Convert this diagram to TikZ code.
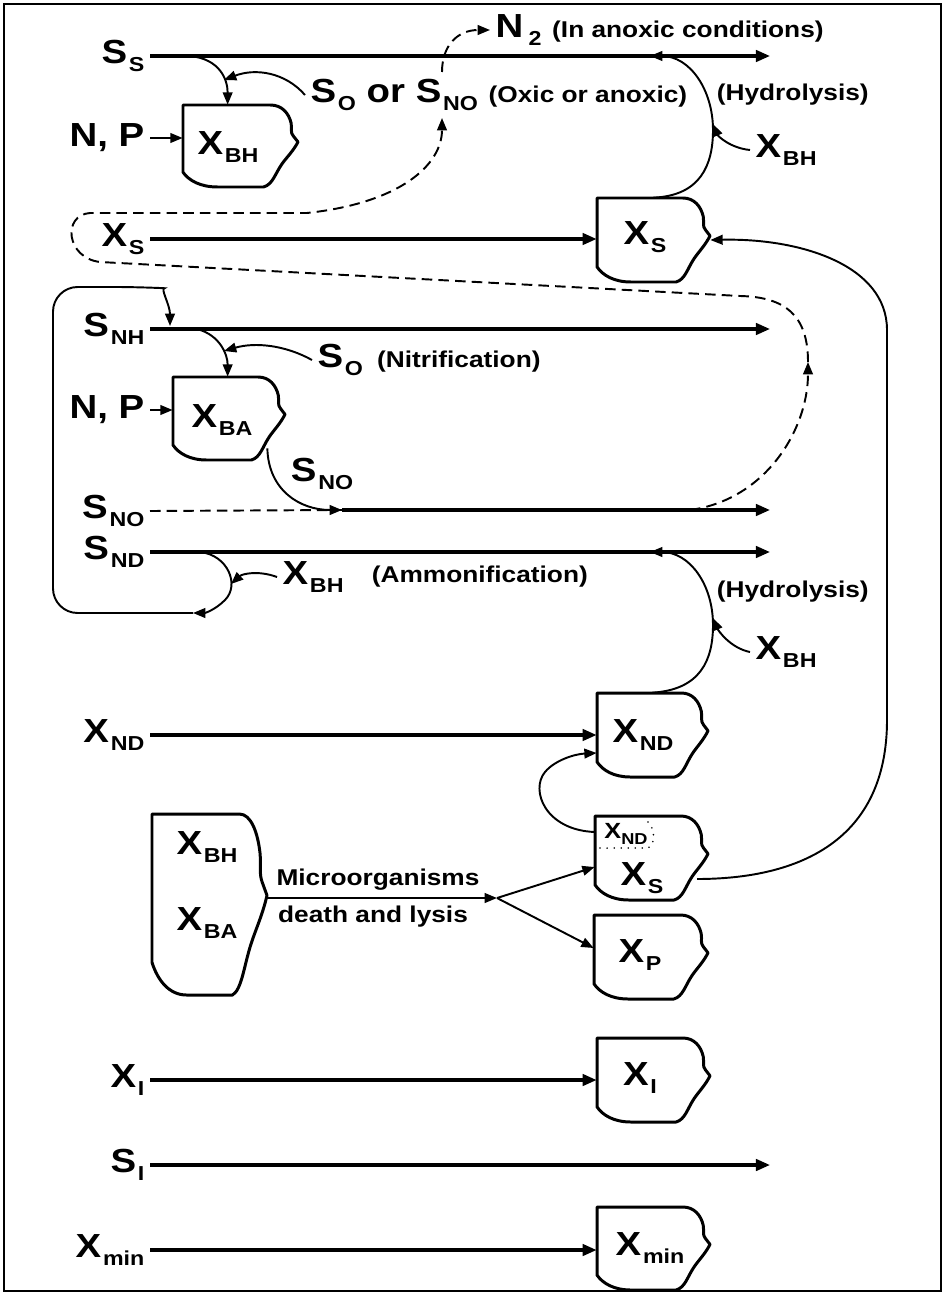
\documentclass[tikz,border=0pt]{standalone}
\usepackage{fontspec}
\setmainfont{Liberation Sans}[FakeStretch=1.15]
\usetikzlibrary{arrows.meta, positioning, calc}

\newlength{\pxu}
\setlength{\pxu}{0.02cm}

% component symbol with subscript
\newcommand{\asm}[2]{{\fontsize{19}{21}\selectfont #1}\kern1pt\raisebox{-4.5pt}{\fontsize{11.5}{13}\selectfont #2}}

\tikzset{
  frame/.style={line width=1.1pt},
  flow/.style={line width=1.8pt, -{Triangle[length=8pt,width=6.5pt]}},
  link/.style={line width=1.1pt, -{Triangle[length=7pt,width=5.5pt]}},
  back/.style={line width=1.1pt, dash pattern=on 6pt off 3.5pt, -{Triangle[length=7pt,width=5.5pt]}},
  blob/.style={inner sep=0pt, draw=none},
  blobline/.style={line width=1.7pt, line join=round},
  lbl/.style={font=\bfseries\fontsize{19}{21}\selectfont, inner sep=3pt},
  anno/.style={font=\bfseries\fontsize{13}{15}\selectfont, inner sep=2pt}
}

% organism / particulate pool outline: name, left, top, width, height
\newcommand{\organism}[5]{%
  \node[blob, minimum width=#4*\pxu, minimum height=#5*\pxu] (#1) at (#2+#4/2,#3+#5/2) {};
  \begin{scope}[shift={(#2,#3)}, xscale=#4, yscale=#5]
    \draw[blobline] (0,0) -- (0.76,0) .. controls (0.86,0) and (0.92,0.1) .. (0.94,0.22)
      .. controls (0.95,0.3) and (0.93,0.33) .. (0.96,0.38) -- (1,0.45)
      .. controls (0.96,0.56) and (0.9,0.64) .. (0.86,0.72)
      .. controls (0.8,0.84) and (0.78,0.97) .. (0.7,1) -- (0.3,1)
      .. controls (0.15,1) and (0.05,0.92) .. (0,0.82) -- cycle;
  \end{scope}}

\begin{document}
\begin{tikzpicture}[x=0.02cm, y=-0.02cm]
  \useasboundingbox (0,0) rectangle (943,1294);
  \draw[frame] (4,4) rectangle (941,1291);

  % Heterotrophic growth on S_S
  \node[lbl, anchor=east] (ss) at (150,56) {\asm{S}{S}};
  \coordinate (ssend) at (770,56);
  \draw[flow] (ss.east) -- (ssend);
  \organism{xbh}{183}{105}{115}{82}
  \node[lbl] (xbhtxt) at (228,147) {\asm{X}{BH}};
  \node[lbl, anchor=east] (np1) at (150,138) {N, P};
  \draw[link] (np1.east) -- (np1.east -| xbh.west);
  \draw[link] ($(ss.east)+(40,0)$) .. controls +(30,3) and +(0,-25) .. ($(xbh.north west)+(45,0)$);
  \node[lbl, anchor=west] (so1) at (305,95) {\asm{S}{O} or \asm{S}{NO} {\fontsize{13}{15}\selectfont (Oxic or anoxic)}};
  \draw[link] (so1.west) .. controls (285,72) and (255,68) .. (224,80);
  \node[lbl, anchor=west] (n2) at (490,30) {N\kern3pt\raisebox{-4.5pt}{\fontsize{11.5}{13}\selectfont 2} {\fontsize{13}{15}\selectfont (In anoxic conditions)}};
  \coordinate (snoup) at (442,72);
  \draw[back] (snoup) .. controls (442,45) and (458,30) .. (n2.west);

  % Hydrolysis of X_S
  \node[anno, anchor=west] (hyd1) at (713,95) {(Hydrolysis)};
  \node[lbl, anchor=west] (xbh2) at (750,150) {\asm{X}{BH}};
  \organism{xs}{597}{198}{113}{84}
  \node[lbl] (xstxt) at (645,237) {\asm{X}{S}};
  \draw[link] (xs.north) .. controls +(47,-2) and +(0,35) .. (713,130) .. controls +(0,-40) and +(40,0) .. (650,56);
  \draw[link] (xbh2.west) .. controls +(-20,-2) and +(5,12) .. (713,124);
  \node[lbl, anchor=east] (xsl) at (150,239) {\asm{X}{S}};
  \draw[flow] (xsl.east) -- (xsl.east -| xs.west);

  % Nitrate recycle (dashed)
  \coordinate (nitro) at (690,510);
  \coordinate (riser) at (808,362);
  \coordinate (snoin) at (442,118);
  \draw[back] (nitro) .. controls (765,500) and (808,430) .. (riser);
  \draw[back] (riser) .. controls (808,315) and (785,297) .. (740,296) -- (100,262)
    .. controls (66,258) and (62,215) .. (90,213) -- (307,213) .. controls (400,203) and (442,165) .. (snoin);

  % Autotrophic growth on S_NH
  \node[lbl, anchor=east] (snh) at (150,329) {\asm{S}{NH}};
  \coordinate (snhend) at (770,329);
  \draw[flow] (snh.east) -- (snhend);
  \organism{xba}{173}{377}{112}{83}
  \node[lbl] (xbatxt) at (222,420) {\asm{X}{BA}};
  \draw[link] ($(snh.east)+(47,0)$) .. controls +(23,6) and +(0,-22) .. ($(xba.north west)+(55,0)$);
  \node[lbl, anchor=west] (so2) at (312,360) {\asm{S}{O}\hspace{8pt}{\fontsize{13}{15}\selectfont (Nitrification)}};
  \draw[link] (so2.west) .. controls (285,345) and (255,342) .. (224,351);
  \node[lbl, anchor=east] (np2) at (150,410) {N, P};
  \draw[link] (np2.east) -- (np2.east -| xba.west);
  \node[lbl] (sno2) at (322,474) {\asm{S}{NO}};
  \coordinate (snojoin) at (342,510);
  \draw[link] ($(xba.south east)+(-18,-12)$) .. controls +(1,42) and +(-42,0) .. (snojoin);

  % S_NO and S_ND lines
  \node[lbl, anchor=east] (sno) at (150,511) {\asm{S}{NO}};
  \coordinate (snoend) at (770,510);
  \draw[line width=1.1pt, dash pattern=on 6pt off 3.5pt] (sno.east) -- (snojoin);
  \draw[flow] (snojoin) -- (snoend);
  \node[lbl, anchor=east] (snd) at (150,552) {\asm{S}{ND}};
  \coordinate (sndend) at (770,552);
  \draw[flow] (snd.east) -- (sndend);

  % Ammonification loop back to S_NH
  \node[lbl, anchor=west] (xbh3) at (277,577) {\asm{X}{BH}};
  \node[anno, anchor=west] (amm) at (368,577) {(Ammonification)};
  \coordinate (ndout) at (200,552);
  \coordinate (loopmid) at (193,613);
  \draw[link] (ndout) .. controls (228,555) and (240,585) .. (225,600) .. controls (215,610) and (205,613) .. (loopmid);
  \draw[link, rounded corners=14pt] (loopmid) -- (53,613) -- (53,287) -- (140,287) .. controls (160,288) and (170,305) .. ($(snh.east)+(20,-3)$);
  \draw[link] (xbh3.west) .. controls (258,570) and (242,574) .. (231,584);

  % Hydrolysis of X_ND
  \node[anno, anchor=west] (hyd2) at (713,592) {(Hydrolysis)};
  \node[lbl, anchor=west] (xbh4) at (750,652) {\asm{X}{BH}};
  \organism{xnd}{597}{693}{111}{84}
  \node[lbl] (xndtxt) at (643,735) {\asm{X}{ND}};
  \draw[link] (xnd.north) .. controls +(48,-3) and +(0,35) .. (713,625) .. controls +(0,-40) and +(40,0) .. (650,552);
  \draw[link] (xbh4.west) .. controls +(-20,-4) and +(5,12) .. (713,618);
  \node[lbl, anchor=east] (xndl) at (150,735) {\asm{X}{ND}};
  \draw[flow] (xndl.east) -- (xndl.east -| xnd.west);

  % Decay of biomass
  \organism{xbio}{152}{814}{115}{181}
  \node[lbl] (xbh5) at (207,847) {\asm{X}{BH}};
  \node[lbl] (xba2) at (207,923) {\asm{X}{BA}};
  \node[anno] (death1) at (378,880) {Microorganisms};
  \node[anno] (death2) at (373,917) {death and lysis};
  \coordinate (split) at (497,898);
  \draw[link] ($(xbio.east)+(0,-6.5)$) -- (split);
  \organism{xs2}{595}{816}{113}{84}
  \node[inner sep=0pt, font=\bfseries] (xndin) at (626,834) {{\fontsize{12.5}{14}\selectfont X}\raisebox{-3pt}{\fontsize{9}{10}\selectfont ND}};
  \draw[line width=1pt, line cap=round, dash pattern=on 0pt off 4pt] (648,822) .. controls (656,830) and (655,845) .. (648,848) -- (598,848);
  \node[lbl] (xs2txt) at (642,878) {\asm{X}{S}};
  \organism{xp}{594}{915}{114}{84}
  \node[lbl] (xptxt) at (640,955) {\asm{X}{P}};
  \draw[link] (split) -- ($(xs2.west)+(0,9)$);
  \draw[link] (split) -- ($(xp.west)+(0,-9)$);
  \draw[link] ($(xs2.west)+(0,-26)$) .. controls (545,830) and (530,790) .. (545,772) .. controls (555,760) and (575,754) .. ($(xnd.west)+(0,18)$);
  \draw[link] (697,879) .. controls (800,879) and (887,840) .. (887,720) -- (887,330) .. controls (887,265) and (800,238) .. (xs.east);

  % Inert and mineral fractions
  \node[lbl, anchor=east] (xil) at (150,1080) {\asm{X}{I}};
  \organism{xi}{597}{1038}{113}{84}
  \node[lbl] (xitxt) at (640,1078) {\asm{X}{I}};
  \draw[flow] (xil.east) -- (xil.east -| xi.west);
  \node[lbl, anchor=east] (sil) at (150,1165) {\asm{S}{I}};
  \coordinate (siend) at (770,1165);
  \draw[flow] (sil.east) -- (siend);
  \node[lbl, anchor=east] (xminl) at (150,1250) {\asm{X}{min}};
  \organism{xmin}{597}{1207}{113}{83}
  \node[lbl] (xmintxt) at (650,1248) {\asm{X}{min}};
  \draw[flow] (xminl.east) -- (xminl.east -| xmin.west);
\end{tikzpicture}
\end{document}
